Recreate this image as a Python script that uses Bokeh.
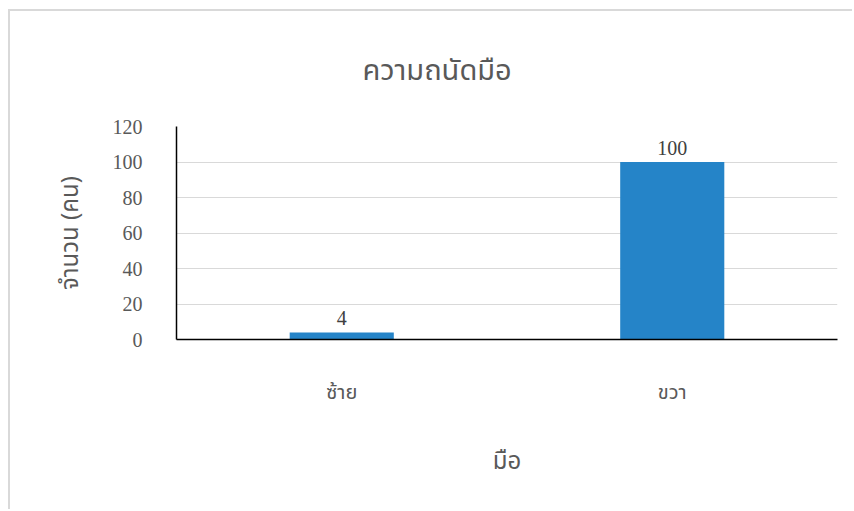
from bokeh.plotting import figure
from bokeh.models import ColumnDataSource, LabelSet
from bokeh.embed import file_html
from bokeh.resources import INLINE

categories = ["ซ้าย", "ขวา"]
counts = [4, 100]
y_ticks = [0, 20, 40, 60, 80, 100, 120]
title_text = "ความถนัดมือ"
x_title = "มือ"
y_title = "จำนวน (คน)"

THAI = "'Noto Sans Thai', 'Liberation Serif', serif"

src = ColumnDataSource(dict(cat=categories, val=counts, lab=[str(v) for v in counts]))

p = figure(x_range=categories, y_range=(0, 120), width=844, height=500,
           output_backend="svg", toolbar_location=None,
           min_border_left=166, min_border_right=17,
           min_border_top=115, min_border_bottom=172)
p.margin = (9, 0, 0, 8)
p.styles = {"border-top": "2px solid #D9D9D9", "border-left": "2px solid #D9D9D9"}

p.vbar(x="cat", top="val", width=0.315, source=src, color="#2584C8", line_color=None)

p.add_layout(LabelSet(x="cat", y="val", text="lab", source=src, text_align="center",
                      text_baseline="bottom", y_offset=7, text_font_size="20px",
                      text_color="#404040", text_font="Liberation Serif"))

p.title.text = title_text
p.title.align = "left"
p.title.offset = 186
p.title.text_font_size = "29px"
p.title.text_font_style = "normal"
p.title.text_color = "#595959"
p.title.text_font = THAI
p.title.text_line_height = 0.6
p.title.standoff = 68

p.outline_line_color = None
p.xgrid.grid_line_color = None
p.ygrid.grid_line_color = "#D9D9D9"
p.ygrid.grid_line_width = 1

p.yaxis.ticker = y_ticks
for ax in (p.xaxis[0], p.yaxis[0]):
    ax.axis_line_color = "black"
    ax.axis_line_width = 1.5
    ax.major_tick_line_color = None
    ax.minor_tick_line_color = None
    ax.major_label_text_color = "#595959"
    ax.major_label_text_font = THAI
    ax.major_label_text_font_size = "20px"
    ax.axis_label_text_color = "#595959"
    ax.axis_label_text_font = THAI
    ax.axis_label_text_font_style = "normal"
    ax.axis_label_text_font_size = "24px"

p.yaxis.major_label_text_font = "Liberation Serif"
p.yaxis.major_label_standoff = 28
p.yaxis.axis_label = y_title
p.yaxis.axis_label_standoff = 21
p.xaxis.major_label_standoff = 32
p.xaxis.axis_label = x_title
p.xaxis.axis_label_standoff = 33

open("out.html", "w").write(file_html(p, INLINE))
